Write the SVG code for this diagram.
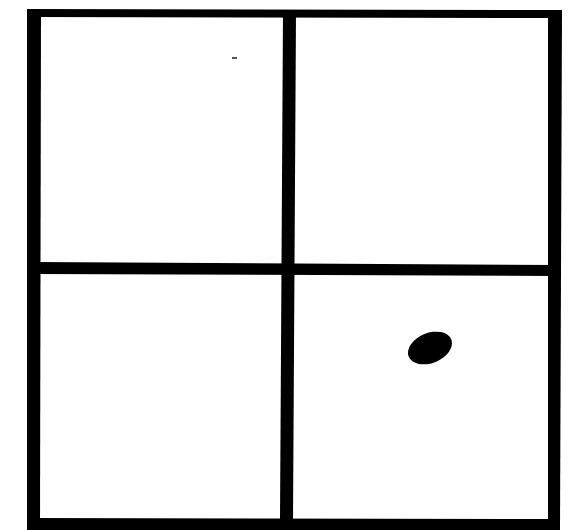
<svg xmlns="http://www.w3.org/2000/svg" width="576" height="530" viewBox="0 0 576 530">
<style>.ink{fill:#000;stroke:none}</style>
<rect width="576" height="530" fill="#fff"/>
<g id="grid">
<polygon class="ink" points="27,9 562,10 562,18 27,17"/>
<polygon class="ink" points="27,9 41,9 40,531 27,531"/>
<polygon class="ink" points="548,10 562,10 560,531 548,531"/>
<polygon class="ink" points="27,518 560,519 560,531 27,531"/>
<polygon class="ink" points="283,12 296,12 293,520 280,520"/>
<polygon class="ink" points="34,262 555,265 555,276 34,274"/>
</g>
<g id="dot">
<ellipse class="ink" cx="430" cy="348" rx="23" ry="15" transform="rotate(-22 430 348)"/>
</g>
<rect x="232" y="57" width="5" height="2" fill="#555"/>
</svg>
